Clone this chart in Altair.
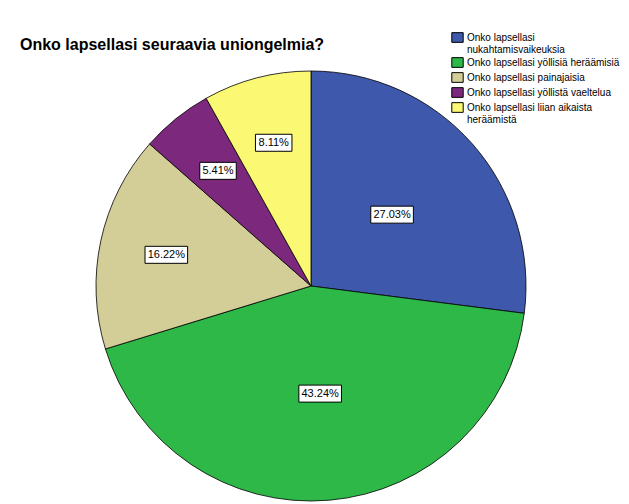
import altair as alt
import pandas as pd

categories = [
    "Onko lapsellasi nukahtamisvaikeuksia",
    "Onko lapsellasi yöllisiä heräämisiä",
    "Onko lapsellasi painajaisia",
    "Onko lapsellasi yöllistä vaeltelua",
    "Onko lapsellasi liian aikaista heräämistä",
]
counts = [10, 16, 6, 2, 3]
colors = ["#3E58AC", "#2EB848", "#D3CE97", "#7C287D", "#FBF873"]
legend_lines = [
    ["Onko lapsellasi", "nukahtamisvaikeuksia"],
    ["Onko lapsellasi yöllisiä heräämisiä"],
    ["Onko lapsellasi painajaisia"],
    ["Onko lapsellasi yöllistä vaeltelua"],
    ["Onko lapsellasi liian aikaista", "heräämistä"],
]
title_text = "Onko lapsellasi seuraavia uniongelmia?"

FONT = "Liberation Sans"
W, H = 613, 436
CX, CY, R = 303, 218, 215

df = pd.DataFrame({"category": categories, "count": counts, "order": list(range(len(categories)))})

def js_list(lines):
    return "[" + ",".join("'" + s + "'" for s in lines) + "]"

label_expr = ""
for cat, lines in zip(categories, legend_lines):
    label_expr += f"datum.label == '{cat}' ? {js_list(lines)} : "
label_expr += "datum.label"

arc = alt.Chart(df).mark_arc(radius=R, stroke="black", strokeWidth=0.8).encode(
    theta=alt.Theta("count:Q", stack=True),
    order=alt.Order("order:Q"),
    color=alt.Color(
        "category:N",
        scale=alt.Scale(domain=categories, range=colors),
        sort=categories,
        legend=alt.Legend(
            title=None,
            orient="none",
            legendX=443,
            legendY=-37,
            labelFont=FONT,
            labelFontSize=10,
            labelColor="black",
            labelExpr=label_expr,
            symbolType="M-1,-0.85L1,-0.85L1,0.85L-1,0.85Z",
            symbolSize=130,
            symbolStrokeColor="black",
            symbolStrokeWidth=1,
            symbolOpacity=1,
            rowPadding=0,
            labelOffset=3,
            labelLimit=300,
        ),
    ),
    x=alt.value(CX),
    y=alt.value(CY),
)

base = (
    alt.Chart(df)
    .transform_joinaggregate(total="sum(count)")
    .transform_window(cum="sum(count)", sort=[alt.SortField("order")], frame=[None, 0])
    .transform_calculate(
        frac="datum.count / datum.total",
        mid="(datum.cum - datum.count / 2) / datum.total * 2 * PI",
    )
    .transform_calculate(
        lr="datum.frac > 0.2 ? 108 : 148",
        label="format(datum.frac * 100, '.2f') + '%'",
    )
    .transform_calculate(
        lx=f"{CX} + datum.lr * sin(datum.mid)",
        ly=f"{CY} - datum.lr * cos(datum.mid)",
        bw="length(datum.label) * 6.1 + 6",
    )
    .transform_calculate(
        bx1="datum.lx - datum.bw / 2",
        bx2="datum.lx + datum.bw / 2",
        by1="datum.ly - 8.5",
        by2="datum.ly + 8.5",
    )
)

boxes = base.mark_rect(fill="white", stroke="black", strokeWidth=1).encode(
    x=alt.X("bx1:Q", scale=None, axis=None),
    x2="bx2:Q",
    y=alt.Y("by1:Q", scale=None, axis=None),
    y2="by2:Q",
)

texts = base.mark_text(font=FONT, fontSize=11, color="black").encode(
    x=alt.X("lx:Q", scale=None, axis=None),
    y=alt.Y("ly:Q", scale=None, axis=None),
    text="label:N",
)

chart = (
    alt.layer(arc, boxes, texts)
    .properties(
        width=W,
        height=H,
        autosize=alt.AutoSizeParams(type="none"),
        padding={"top": 60, "left": 0, "right": 0, "bottom": 0},
        title=alt.TitleParams(
            title_text,
            anchor="start",
            font=FONT,
            fontSize=16,
            fontWeight="bold",
            color="black",
            dx=12,
            offset=-22,
        ),
    )
    .configure_view(stroke=None)
)

chart.save("out.html", embed_options={"renderer": "svg", "actions": False})
